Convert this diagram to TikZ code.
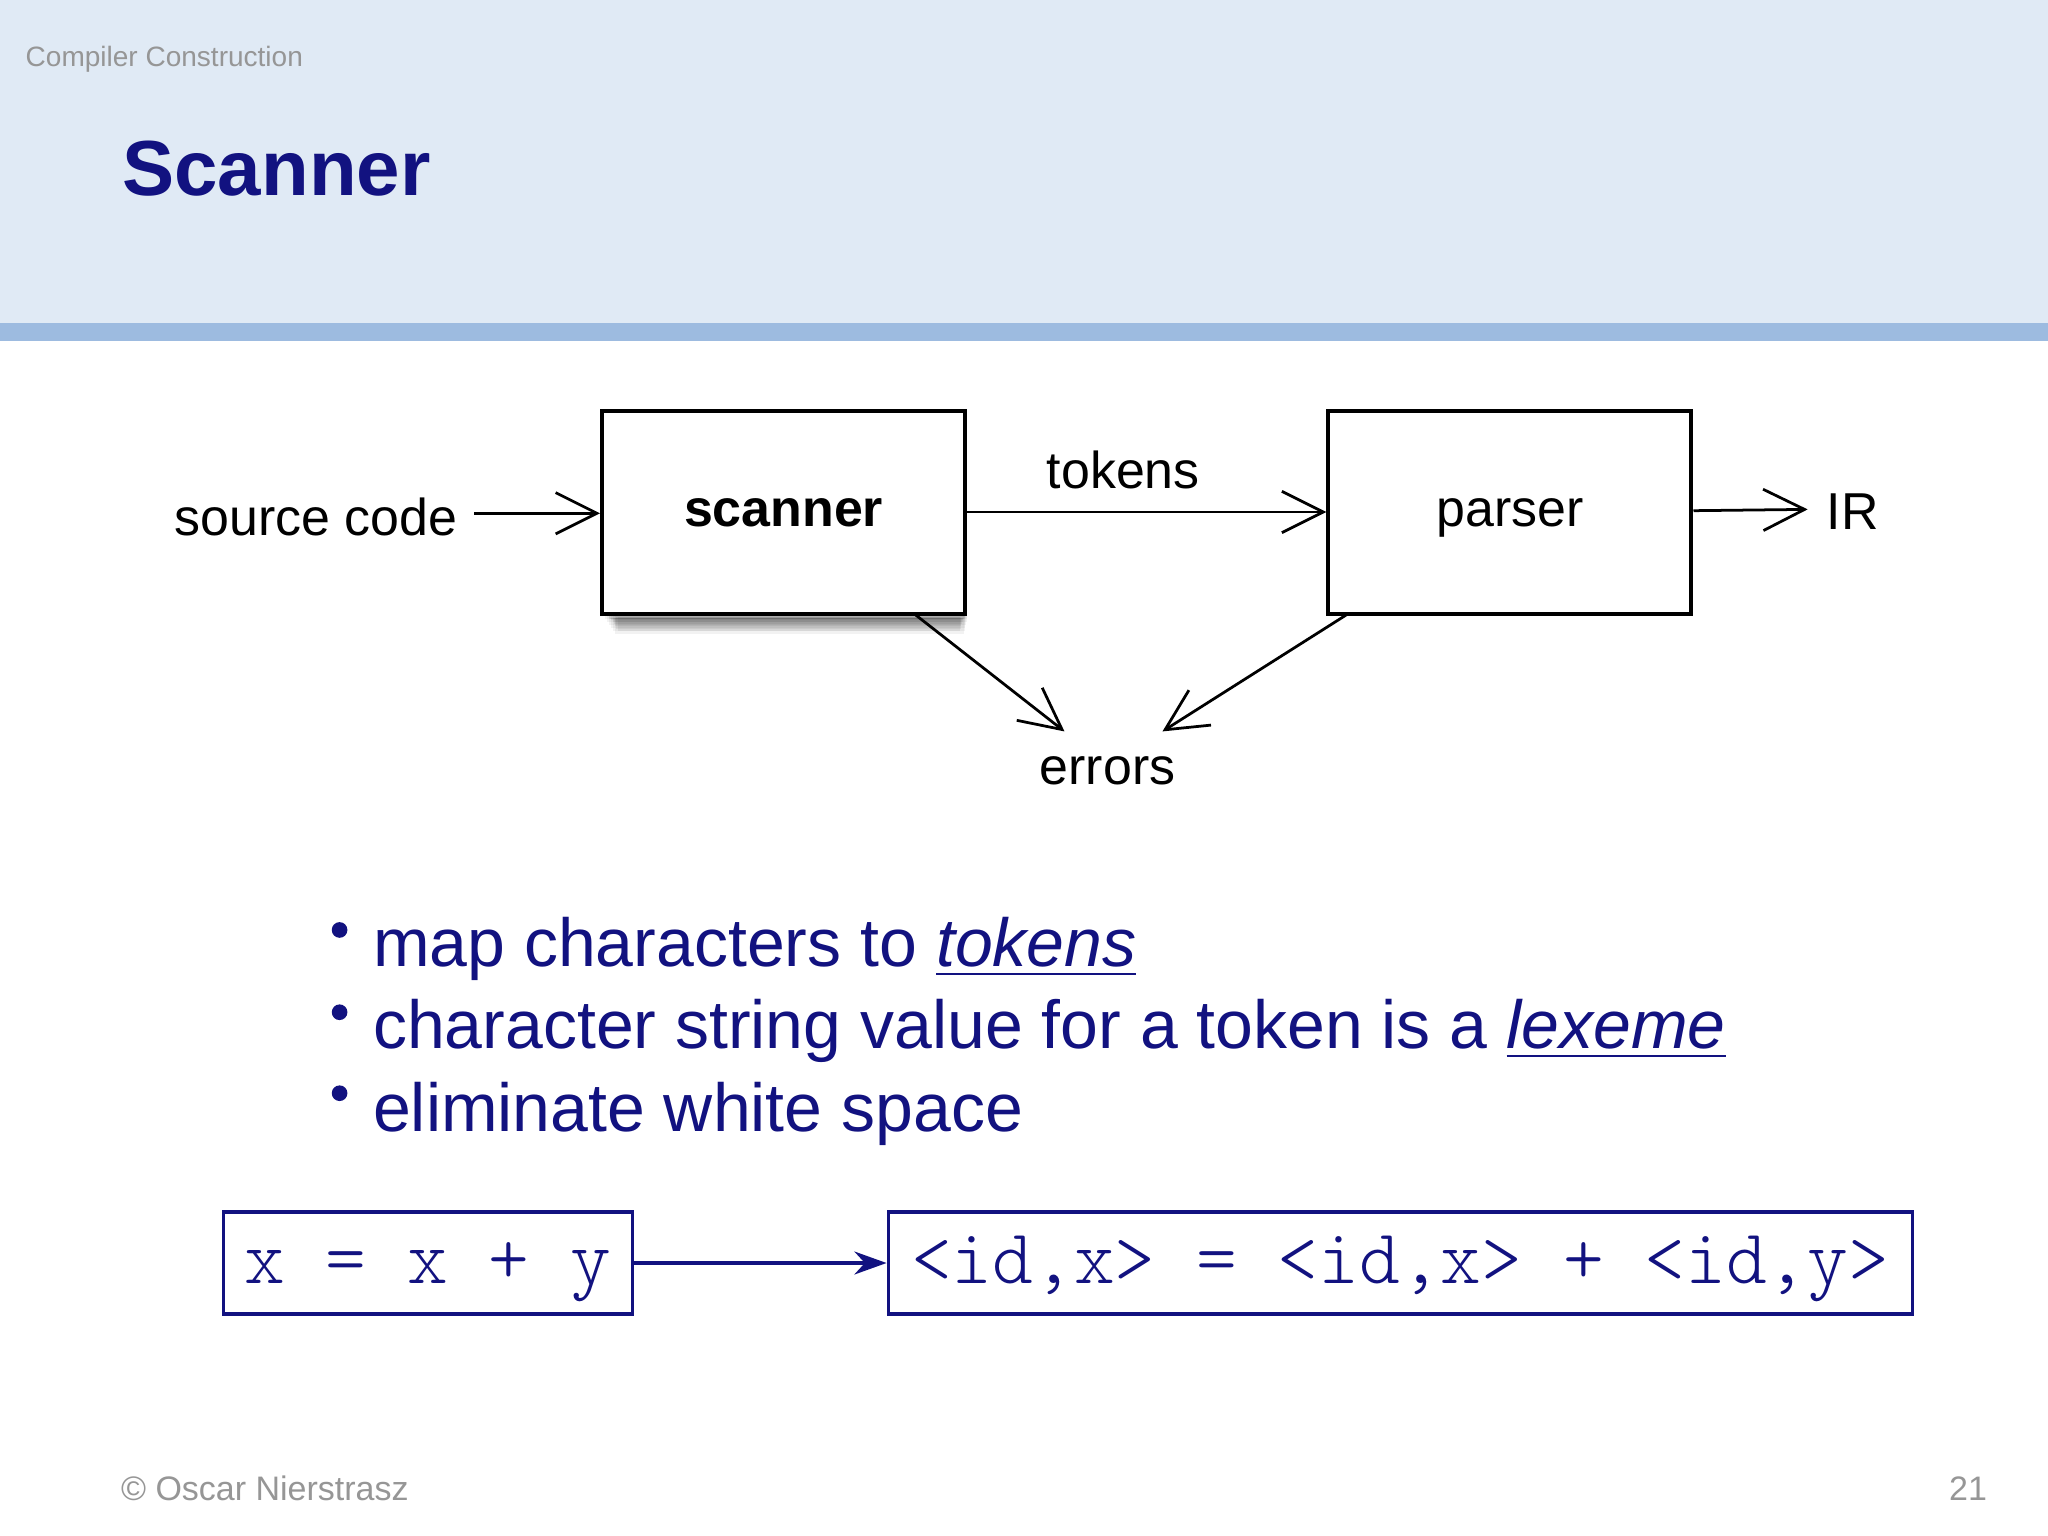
\documentclass[tikz,border=0pt]{standalone}
\usepackage{fontspec}
\setmainfont{Liberation Sans}
\setmonofont{Latin Modern Mono Light}
\usetikzlibrary{arrows.meta}
\definecolor{navy}{RGB}{18,18,128}
\definecolor{hdr}{RGB}{224,234,245}
\definecolor{band}{RGB}{157,187,224}
\definecolor{gr}{RGB}{150,150,150}
\newlength\pxu \setlength\pxu{0.01cm}
\tikzset{
  blk/.style={draw,line width=0.9pt,fill=white,minimum width=278\pxu,minimum height=155\pxu,inner sep=0,text height=6pt,text depth=0pt},
  oarr/.style={-{Straight Barb[length=9pt,width=9pt]},line width=0.6pt},
  mbox/.style={draw=navy,line width=0.7pt,text=navy,font=\ttfamily\fontsize{16.9}{17}\selectfont,inner sep=0,minimum height=78\pxu,text height=9pt,text depth=-3pt},
  lbl/.style={font=\fontsize{11.3}{13}\selectfont,inner sep=0},
  bul/.style={anchor=base west,text=navy,font=\fontsize{14.8}{16}\selectfont,inner sep=0}
}
\begin{document}
\begin{tikzpicture}[x=0.01cm,y=-0.01cm]
\useasboundingbox (0,0) rectangle (1568,1176);
\fill[white] (0,0) rectangle (1568,1176);
\fill[hdr] (0,0) rectangle (1568,247);
\fill[band] (0,247) rectangle (1568,261);
\node[anchor=base west,text=gr,inner sep=0,font=\fontsize{6.1}{7}\selectfont] (cc) at (19,51) {Compiler Construction};
\node[anchor=base west,text=navy,inner sep=0,font=\bfseries\fontsize{17}{19}\selectfont] (title) at (93,150) {Scanner};
% shadow
\foreach \i in {1,...,8} \fill[black,opacity=0.06] (465+\i,470+\i*1.6) rectangle (739-\i*0.5,474-\i*0.2);
\foreach \i in {1,...,6} \fill[black,opacity=0.05] (462+\i*1.5,440) rectangle (741-\i*0.5,472+\i*2.2);
% diagram
\node[blk] (sc) at (600,392.5) {\fontsize{11.3}{13}\selectfont\bfseries scanner};
\node[blk] (pa) at (1156,392.5) {\fontsize{11.3}{13}\selectfont parser};
\node[lbl] (src) at (242,396) {source code};
\node[lbl,anchor=west] (ir) at (1398,392) {IR};
\node[lbl] (err) at (848,590) {errors};
\node[lbl] (tok) at (860,360) {tokens};
\coordinate (s1) at (363,393);
\draw[oarr] (s1) -- (sc.west|-s1);
\draw[oarr] (sc.east|-0,392) -- (pa.west|-0,392);
\draw[oarr] (pa.east|-0,391) -- (1384,390);
\coordinate (e1) at (700,470); \coordinate (e2) at (815,560);
\coordinate (f1) at (1032,470); \coordinate (f2) at (890,560);
\draw[oarr] (e1) -- (e2);
\draw[oarr] (f1) -- (f2);
% bullets
\foreach \y in {722,785,847} \fill[navy] (260,\y-10) circle (6);
\node[bul] (b1) at (285,740) {map characters to \underline{\textit{tokens}}};
\node[bul] (b2) at (285,803) {character string value for a token is a \underline{\textit{lexeme}}};
\node[bul] (b3) at (285,866) {eliminate white space};
% bottom
\node[mbox,minimum width=313\pxu] (m1) at (327.5,967) {x = x + y};
\node[mbox,minimum width=784\pxu] (m2) at (1072,967) {<id,x> = <id,x> + <id,y>};
\draw[navy,line width=0.7pt,-{Stealth[length=7pt,width=5pt]}] (m1) -- (m2);
% footer
\node[anchor=base west,text=gr,inner sep=0,font=\fontsize{7.4}{8}\selectfont] (ft) at (92,1149) {© Oscar Nierstrasz};
\node[anchor=base east,text=gr,inner sep=0,font=\fontsize{7.4}{8}\selectfont] (pg) at (1522,1149) {21};
\end{tikzpicture}
\end{document}
